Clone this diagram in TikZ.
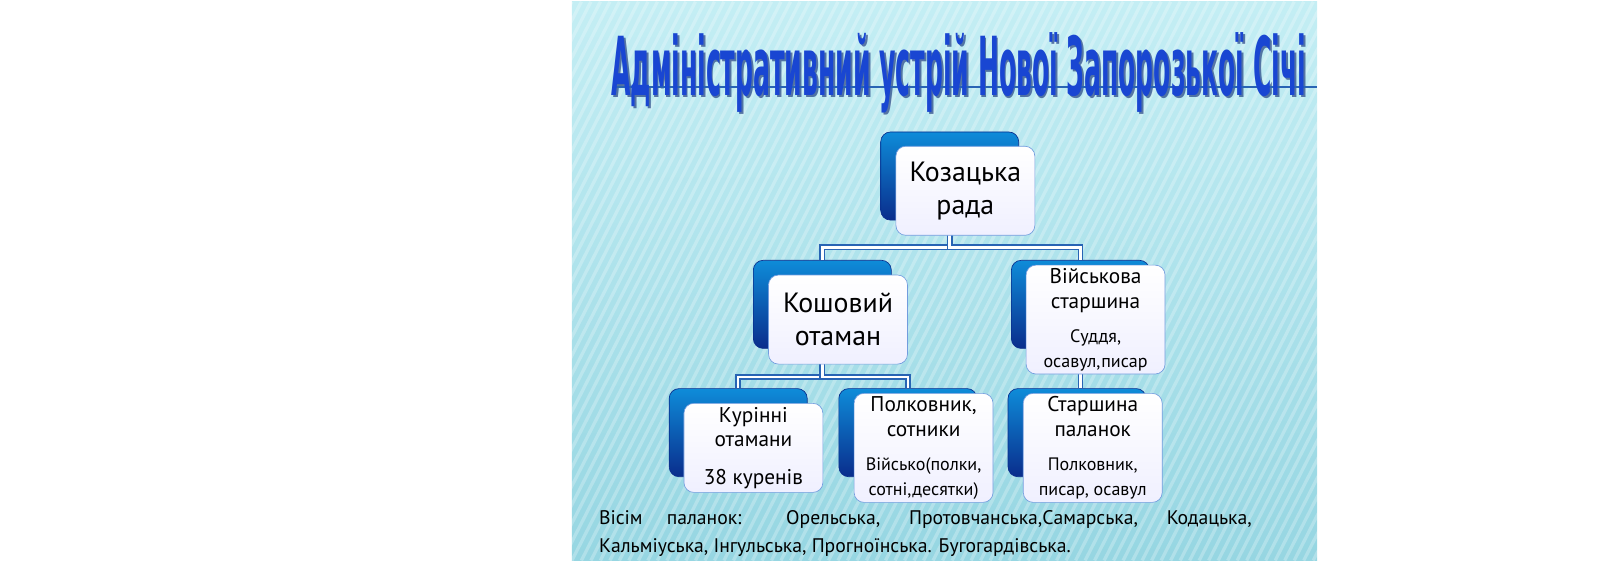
\documentclass[tikz,border=0pt]{standalone}
\usepackage{fontspec}
\setmainfont{PT Sans}
\newfontfamily\titlefont{DejaVu Sans Condensed}
\usetikzlibrary{positioning,calc}
\definecolor{bgtop}{RGB}{196,238,244}
\definecolor{bgbot}{RGB}{150,214,226}
\definecolor{boxblue}{RGB}{20,90,200}
\definecolor{boxdark}{RGB}{10,45,140}
\definecolor{lineblue}{RGB}{40,100,180}
\definecolor{titleblue}{RGB}{25,70,210}
\newcommand{\midtxt}{\fontsize{13}{15}\selectfont}
\newcommand{\smalltxt}{\fontsize{11}{13}\selectfont}

\begin{document}
\begin{tikzpicture}[x=0.0102cm,y=-0.0102cm]
\tikzset{back/.style = {rounded corners=6pt, minimum width=2.96cm, minimum height=1.89cm,
                        top color=boxblue!70!cyan, bottom color=boxdark, draw=boxdark},
         front/.style = {rounded corners=6pt, minimum width=2.98cm, minimum height=1.91cm,
                        top color=white, bottom color=blue!6, draw=boxblue!60, align=center,
                        inner sep=2pt},
         big/.style = {font=\fontsize{17}{20}\selectfont},
         link/.style = {draw=lineblue, double=white, double distance=1.5pt, line width=1pt}}

% background
\shade[top color=bgtop, bottom color=bgbot] (0,0) rectangle (1568,1176);
\foreach \i in {-1200,-1180,...,1560}
  \draw[white, opacity=0.25, line width=2pt] (\i,1176) -- (\i+600,0);

% title
\node[text=boxdark!80!black, opacity=0.6] at (818,154)
  {\resizebox{14.9cm}{1.35cm}{\titlefont\bfseries Адміністративний устрій Нової Запорозької Січі}};
\draw[lineblue, line width=1pt] (90,180) -- (1568,180);
\node[text=titleblue] (title) at (814,150)
  {\resizebox{14.9cm}{1.35cm}{\titlefont\bfseries Адміністративний устрій Нової Запорозької Січі}};

% boxes (back first)
\node[back] (radab) at (795,367) {};
\node[back] (koshb) at (527,637) {};
\node[back] (starb) at (1070,637) {};
\node[back] (kurb) at (350,907) {};
\node[back] (polkb) at (707,907) {};
\node[back] (palb) at (1063,907) {};

% connectors
\path[link] (radab.center) -- ++(0,150) -| (koshb.north);
\path[link] (radab.center) -- ++(0,150) -| (starb.north);
\path[link] (koshb.center) -- ++(0,153) -| (kurb.north);
\path[link] (koshb.center) -- ++(0,153) -| (polkb.north);
\path[link] (starb.center) -- (palb.north -| starb.center);

% front boxes
\node[front,big] (rada) at (828,398) {Козацька\\рада};
\node[front,big] (kosh) at (560,669) {Кошовий\\отаман};
\node[front,font=\midtxt] (star) at (1102,669) {Військова\\старшина\\[6pt]\smalltxt Суддя,\\\smalltxt осавул,писар};
\node[front,font=\midtxt] (kur) at (382,939) {Курінні\\отамани\\[8pt]38 куренів};
\node[front,font=\midtxt] (polk) at (740,939) {Полковник,\\сотники\\[6pt]\smalltxt Військо(полки,\\\smalltxt сотні,десятки)};
\node[front,font=\midtxt] (pal) at (1096,939) {Старшина\\паланок\\[6pt]\smalltxt Полковник,\\\smalltxt писар, осавул};

% note
\node[anchor=north west, text width=14cm, align=justify, font=\fontsize{12}{17}\selectfont] (note) at (45,1058)
  {Вісім паланок: Орельська, Протовчанська,Самарська, Кодацька, Кальміуська, Інгульська, Прогноїнська. Бугогардівська.};
\end{tikzpicture}
\end{document}
